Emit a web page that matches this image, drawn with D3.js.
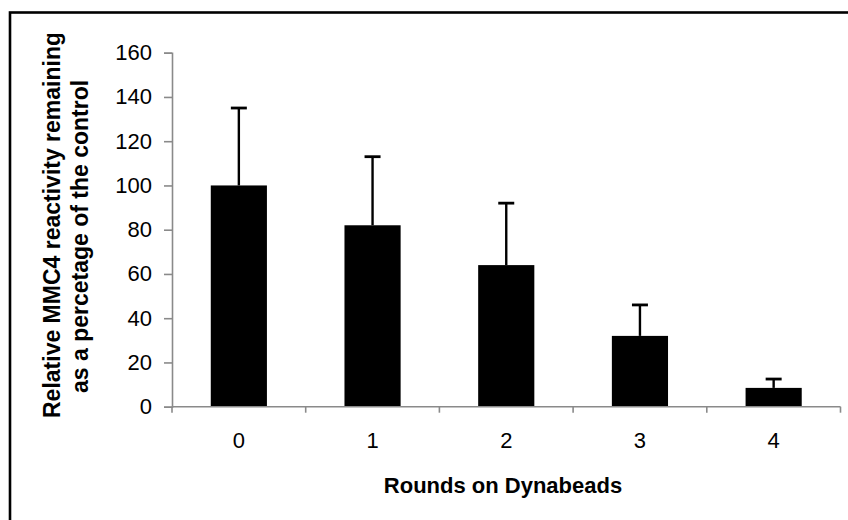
<!DOCTYPE html>
<html>
<head>
<meta charset="utf-8">
<script src="https://cdn.jsdelivr.net/npm/d3@7"></script>
<style>
  html, body { margin: 0; padding: 0; background: #fff; }
  svg { display: block; }
  text { font-family: "Liberation Sans", Arial, sans-serif; fill: #000; }
</style>
</head>
<body>
<svg id="chart" width="848" height="520"></svg>
<script>
const categories = ["0", "1", "2", "3", "4"];
const values = [100, 82, 64, 32, 8.5];
const errorsUp = [35, 31, 28, 14, 4];
const yTicks = [0, 20, 40, 60, 80, 100, 120, 140, 160];
const xTitle = "Rounds on Dynabeads";
const yTitleLines = ["Relative MMC4 reactivity remaining", "as a percetage of the control"];

(function () {
const svg = d3.select("#chart");
const plotL = 172, plotR = 840.5, plotT = 52.7, plotB = 406.7;

// outer border (only left & top edges visible in the frame)
svg.append("rect")
  .attr("x", 10).attr("y", 12.5)
  .attr("width", 900).attr("height", 600)
  .attr("fill", "none").attr("stroke", "#000").attr("stroke-width", 2.6);

const x = d3.scaleBand().domain(categories).range([plotL, plotR]).paddingInner(0).paddingOuter(0);
const y = d3.scaleLinear().domain([0, 160]).range([plotB, plotT]);
const barW = x.bandwidth() * 0.42;

// y axis
const yAxis = svg.append("g")
  .attr("transform", `translate(${plotL},0)`)
  .call(d3.axisLeft(y).tickValues(yTicks).tickSize(8).tickPadding(12).tickFormat(d3.format("d")));
yAxis.select(".domain").attr("stroke", "#8a8a8a").attr("stroke-width", 1.6);
yAxis.selectAll(".tick line").attr("stroke", "#8a8a8a").attr("stroke-width", 1.6);
yAxis.selectAll(".tick text").attr("font-size", 22).attr("fill", "#111")
  .style("font-family", "'Liberation Sans', Arial, sans-serif");

// bars
svg.append("g").selectAll("rect").data(categories).join("rect")
  .attr("x", (d) => x(d) + x.bandwidth() / 2 - barW / 2)
  .attr("y", (d, i) => y(values[i]))
  .attr("width", barW)
  .attr("height", (d, i) => y(0) - y(values[i]))
  .attr("fill", "#000");

// error bars (upper)
const eg = svg.append("g").attr("stroke", "#000");
categories.forEach((c, i) => {
  const cx = x(c) + x.bandwidth() / 2;
  eg.append("line")
    .attr("x1", cx).attr("x2", cx)
    .attr("y1", y(values[i])).attr("y2", y(values[i] + errorsUp[i]))
    .attr("stroke-width", 2.4);
  eg.append("line")
    .attr("x1", cx - 8).attr("x2", cx + 8)
    .attr("y1", y(values[i] + errorsUp[i])).attr("y2", y(values[i] + errorsUp[i]))
    .attr("stroke-width", 2.8);
});

// x axis
const xAxisG = svg.append("g").attr("transform", `translate(0,${plotB})`);
xAxisG.append("line")
  .attr("x1", plotL).attr("x2", plotR).attr("y1", 0).attr("y2", 0)
  .attr("stroke", "#8a8a8a").attr("stroke-width", 1.6);
const boundaries = categories.map((c) => x(c)).concat([x(categories[categories.length - 1]) + x.bandwidth()]);
xAxisG.selectAll("line.tk").data(boundaries).join("line").attr("class", "tk")
  .attr("x1", (d) => d).attr("x2", (d) => d).attr("y1", 0).attr("y2", 6)
  .attr("stroke", "#8a8a8a").attr("stroke-width", 1.6);
xAxisG.selectAll("text").data(categories).join("text")
  .attr("x", (d) => x(d) + x.bandwidth() / 2)
  .attr("y", 41.5)
  .attr("text-anchor", "middle")
  .attr("font-size", 22)
  .attr("fill", "#111")
  .text((d) => d);

// x title
svg.append("text")
  .attr("x", 503).attr("y", 493)
  .attr("text-anchor", "middle")
  .attr("font-size", 22).attr("font-weight", "bold")
  .text(xTitle);

// y title (clipped at top like the original)
svg.append("clipPath").attr("id", "ytclip")
  .append("rect").attr("x", 0).attr("y", 34).attr("width", 160).attr("height", 480);
const yt = svg.append("g").attr("clip-path", "url(#ytclip)");
const yTitleX = [60, 88];
const yTitleStart = [418, 393];
yTitleLines.forEach((t, i) => {
  yt.append("text")
    .attr("transform", `translate(${yTitleX[i]},${yTitleStart[i]}) rotate(-90)`)
    .attr("text-anchor", "start")
    .attr("font-size", 23).attr("font-weight", "bold")
    .text(t);
});
})();
</script>
</body>
</html>
